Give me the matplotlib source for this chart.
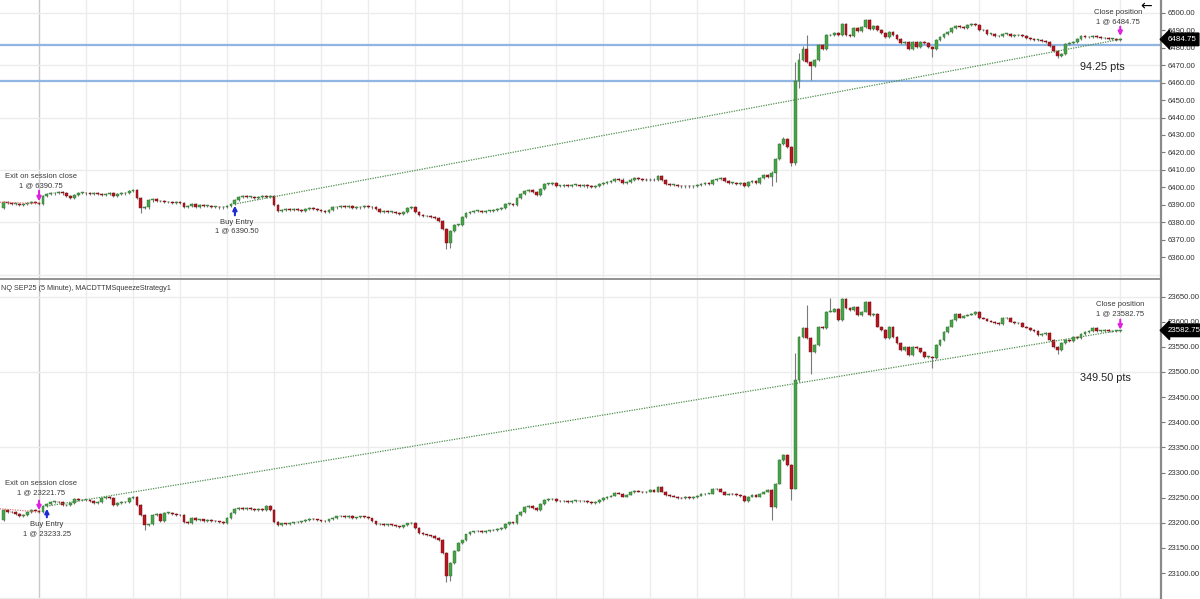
import numpy as np
import matplotlib
matplotlib.use("Agg")
import matplotlib.pyplot as plt

plt.rcParams['font.family'] = ['Liberation Sans', 'DejaVu Sans']

# ---- data (5 minute bars, open of a bar = close of the previous bar) ----
es_first_open = 6388.0
es_close = [
    6391.5, 6391, 6390.5, 6390.5, 6390, 6390.5, 6391, 6391.5, 6391.25, 6390.75,
    6395, 6396, 6396.5, 6397, 6397.5, 6396.5, 6395, 6394, 6395.5, 6397,
    6397, 6396.5, 6396, 6396.5, 6396, 6395.5, 6396, 6396.5, 6395, 6396,
    6396.5, 6397, 6397.75, 6398.75, 6394, 6388, 6388.5, 6392.5, 6393.5, 6392,
    6392, 6391.5, 6391.5, 6391, 6391.5, 6391, 6389, 6389.5, 6390.5, 6389,
    6390, 6389.5, 6389.5, 6389, 6389, 6388.5, 6389, 6389.5, 6390.5, 6393,
    6394.5, 6395, 6394.5, 6394.5, 6394, 6394.5, 6395, 6394.5, 6395, 6390,
    6386.5, 6387, 6387.5, 6387, 6387.5, 6387, 6386.5, 6387.5, 6388, 6387.5,
    6387, 6386.5, 6386, 6387, 6388.5, 6389, 6389.5, 6389, 6389.5, 6388,
    6388.5, 6389, 6389.5, 6389, 6388.5, 6387.5, 6386, 6386.5, 6386, 6386,
    6385.5, 6385, 6386, 6388, 6388.5, 6386, 6384, 6383.5, 6383.5, 6383,
    6382.5, 6381, 6376, 6368, 6375, 6378.5, 6378.5, 6383, 6385.5, 6386,
    6386.5, 6386.5, 6386, 6386.5, 6386.5, 6387, 6387.5, 6388, 6390.5, 6390.5,
    6390, 6394, 6396, 6398, 6398.5, 6397.5, 6395.5, 6399, 6402, 6402,
    6402.5, 6401, 6401, 6401.5, 6401, 6401.5, 6401.5, 6401, 6401.5, 6400.5,
    6400, 6401, 6402, 6402.5, 6403, 6403.5, 6405, 6404.5, 6402.5, 6403,
    6404.5, 6405.5, 6405, 6404.5, 6404, 6404.5, 6404, 6406.5, 6404, 6402,
    6401.5, 6401.5, 6401, 6400.5, 6401, 6400.5, 6401, 6401.5, 6402, 6402.5,
    6402, 6404, 6405, 6405.5, 6403.5, 6402.5, 6402.5, 6402, 6402.5, 6400.75,
    6403, 6403.5, 6402.75, 6405.5, 6407, 6406, 6408.5, 6416.5, 6425, 6427.5,
    6423, 6414, 6461, 6473, 6479, 6472, 6469.5, 6473, 6481.5, 6479.5,
    6487, 6487, 6488.5, 6487.5, 6493.5, 6487, 6486.5, 6491.5, 6489.5, 6492,
    6496, 6490.5, 6492.5, 6490, 6488.5, 6486, 6489, 6487, 6485, 6482.5,
    6483, 6479.5, 6483, 6480.5, 6483, 6482.5, 6480.5, 6479.5, 6484.5, 6486,
    6488, 6489, 6491.5, 6492.5, 6492, 6491.5, 6493, 6493.5, 6493, 6490,
    6490, 6488, 6488, 6486.5, 6486.5, 6488, 6488, 6486.5, 6487, 6487.5,
    6486.5, 6485.5, 6485, 6484.5, 6484.5, 6484, 6483.5, 6481, 6478, 6475.5,
    6476.5, 6482, 6482.5, 6483, 6485, 6486.5, 6486, 6486, 6486.5, 6486,
    6485.5, 6485.5, 6485, 6485, 6484.5, 6484.75,
]
# bars with long wicks: bar -> (low, high), None = no long wick on that side
es_wicks = {35: (6385.5, None), 113: (6364.5, None), 114: (6365, None),
            196: (6401, None), 197: (6403, None), 199: (None, 6429),
            200: (None, 6428.5), 201: (6412, None), 202: (6413, 6472),
            203: (6457, 6477), 204: (None, 6481), 205: (None, 6487.5),
            206: (6461.5, None), 237: (6474.5, None), 269: (6474, None)}

nq_first_open = 23205.0
nq_close = [
    23225, 23222, 23221, 23217, 23214, 23216, 23221, 23226, 23224, 23221.75,
    23234, 23238, 23242, 23242, 23241, 23235, 23236, 23240, 23248, 23245,
    23246, 23246, 23244, 23240, 23242, 23249, 23252, 23250, 23236, 23240,
    23241, 23241, 23249, 23252, 23236, 23215, 23196, 23197, 23215, 23218,
    23203, 23220, 23220, 23218, 23216, 23215, 23202, 23200, 23210, 23206,
    23207, 23204, 23206, 23204, 23203, 23202, 23200, 23210, 23219, 23227,
    23229, 23228, 23229, 23227, 23225, 23228, 23226, 23233, 23225, 23202,
    23196, 23199, 23198, 23200, 23201, 23202, 23203, 23206, 23208, 23207,
    23205, 23204, 23203, 23207, 23210, 23213, 23214, 23212, 23214, 23210,
    23211, 23213, 23212, 23209, 23203, 23197, 23198, 23196, 23197, 23195,
    23193, 23191, 23195, 23199, 23200, 23190, 23180, 23177, 23175, 23174,
    23170, 23166, 23140, 23095, 23120, 23145, 23160, 23165, 23177, 23182,
    23183, 23184, 23182, 23184, 23185, 23186, 23188, 23190, 23198, 23201,
    23200, 23215, 23222, 23232, 23234, 23230, 23225, 23238, 23246, 23247,
    23248, 23244, 23243, 23244, 23242, 23244, 23244, 23243, 23244, 23241,
    23239, 23242, 23246, 23249, 23252, 23254, 23260, 23258, 23252, 23256,
    23261, 23264, 23262, 23261, 23262, 23265, 23262, 23272, 23262, 23255,
    23253, 23252, 23250, 23249, 23252, 23250, 23251, 23254, 23257, 23258,
    23258, 23267, 23268, 23262, 23256, 23258, 23257, 23255, 23253, 23243,
    23252, 23256, 23252, 23258, 23262, 23266, 23232, 23278, 23325, 23335,
    23315, 23268, 23484, 23570, 23587, 23567, 23540, 23554, 23590, 23587,
    23620, 23620, 23625, 23603, 23646, 23627, 23623, 23629, 23613, 23620,
    23640, 23613, 23616, 23590, 23583, 23567, 23590, 23570, 23557, 23544,
    23550, 23534, 23550, 23547, 23540, 23530, 23530, 23527, 23554, 23564,
    23580, 23590, 23603, 23615, 23608, 23612, 23614, 23615, 23620, 23607,
    23606, 23602, 23600, 23597, 23595, 23607, 23607, 23600, 23597, 23598,
    23590, 23588, 23583, 23581, 23573, 23576, 23577, 23563, 23550, 23544,
    23557, 23563, 23562, 23570, 23568, 23575, 23580, 23582, 23587, 23582,
    23582, 23584, 23581, 23582, 23582, 23582.75,
]
nq_wicks = {36: (23186, None), 113: (23083, None), 114: (23085, None),
            196: (23206, None), 201: (23245, None), 202: (None, 23537),
            203: (23480, None), 205: (None, 23633), 206: (23495, None),
            211: (None, 23647), 237: (23508, None), 269: (23535, None)}

# trades: (bar, price)
es_exit = (9, 6390.75)
es_entry = (59, 6390.50)
es_closepos = (285, 6484.75)
es_prev_entry_price = 6391.5
es_levels = [6481.8, 6461.2]

nq_exit = (9, 23221.75)
nq_entry = (11, 23233.25)
nq_closepos = (285, 23582.75)
nq_prev_entry_price = 23228.0

GREEN = '#47a447'
RED = '#b7161f'
GRID = '#ececec'
TXT = '#3a3a3a'
SMALL = 5.5

W, H = 1200, 599
fig = plt.figure(figsize=(W / 100, H / 100), dpi=100)
fig.patch.set_facecolor('white')

x_right = 1161 / W
ax1 = fig.add_axes([0, (H - 278) / H, x_right, 278 / H])
ax2 = fig.add_axes([0, 0, x_right, 320 / H])


def candles(ax, first_open, closes, wicks, wick_def):
    c = np.array(closes, dtype=float)
    o = np.concatenate([[first_open], c[:-1]])
    idx = np.arange(len(c))
    top = np.maximum(o, c)
    bot = np.minimum(o, c)
    hi = top + wick_def
    lo = bot - wick_def
    for k, (l, h) in wicks.items():
        if l is not None:
            lo[k] = l
        if h is not None:
            hi[k] = h
    ax.vlines(idx, lo, hi, color='#7a7a7a', lw=0.8, zorder=3)
    up = c >= o
    body = np.maximum(top - bot, wick_def * 0.5)
    ax.bar(idx[up], body[up], bottom=bot[up], width=0.72, color=GREEN,
           edgecolor='#2f6f2f', linewidth=0.3, zorder=4)
    ax.bar(idx[~up], body[~up], bottom=bot[~up], width=0.72, color=RED,
           edgecolor='#6e0c12', linewidth=0.3, zorder=4)


def style(ax, ylim, yt, grid_y):
    ax.set_xlim(-0.96, 295.4)
    ax.set_ylim(*ylim)
    for s in ['top', 'left', 'bottom']:
        ax.spines[s].set_visible(False)
    ax.spines['right'].set_color('#8a8a8a')
    ax.spines['right'].set_linewidth(1.6)
    for gx in range(9, 300, 12):
        ax.axvline(gx, color='#c9c9c9' if gx == 9 else GRID, lw=1.0, zorder=0)
    for gy in grid_y:
        ax.axhline(gy, color=GRID, lw=1.0, zorder=0)
    ax.set_xticks([])
    ax.yaxis.tick_right()
    ax.set_yticks(yt)
    ax.set_yticklabels(['%.2f' % v for v in yt])
    ax.tick_params(axis='y', length=3, width=0.8, color='#777777', pad=1.5,
                   labelsize=5.6, labelcolor='#333333')


def arrow(ax, x, y_from, y_to, color):
    ax.annotate('', xy=(x, y_to), xytext=(x, y_from),
                arrowprops=dict(arrowstyle='-|>', color=color, lw=1.5,
                                mutation_scale=6, shrinkA=0, shrinkB=0),
                zorder=6)


def price_box(ax, price, txt):
    ax.annotate(txt, xy=(1.0, price), xycoords=('axes fraction', 'data'),
                xytext=(4.5, 0), textcoords='offset points', ha='left', va='center',
                fontsize=5.7, color='white', annotation_clip=False, zorder=10,
                bbox=dict(boxstyle='larrow,pad=0.35', fc='black', ec='black'))


# ---- top panel (ES) ----
candles(ax1, es_first_open, es_close, es_wicks, 0.6)
style(ax1, (6348.1, 6507.3), np.arange(6360, 6501, 10), np.arange(6350, 6501, 30))
for lv in es_levels:
    ax1.axhline(lv, color='#8fb5e3', lw=1.6, zorder=2)
ax1.plot([es_entry[0], es_closepos[0]], [es_entry[1], es_closepos[1]],
         color='#4f8f4f', lw=0.9, ls=(0, (1, 1)), zorder=5)
ax1.plot([-1, es_exit[0]], [es_prev_entry_price, es_exit[1]],
         color='#e07070', lw=0.9, ls=(0, (1, 1)), zorder=5)
arrow(ax1, es_exit[0], 6398, 6392, '#e020e0')
arrow(ax1, es_entry[0], 6384, 6389.5, '#1a2bd6')
arrow(ax1, es_closepos[0], 6492, 6486.7, '#e020e0')
ax1.text(9.5, 6403.5, 'Exit on session close\n1 @ %.2f' % es_exit[1], ha='center',
         va='center', fontsize=SMALL, color=TXT, linespacing=1.4)
ax1.text(59.5, 6377.5, 'Buy Entry\n1 @ %.2f' % es_entry[1], ha='center',
         va='center', fontsize=SMALL, color=TXT, linespacing=1.4)
ax1.text(284.5, 6497.6, 'Close position\n1 @ %.2f' % es_closepos[1], ha='center',
         va='center', fontsize=SMALL, color=TXT, linespacing=1.4)
ax1.text(280.4, 6468.9, '%.2f pts' % (es_closepos[1] - es_entry[1]), ha='center',
         va='center', fontsize=7.8, color='#222222')
price_box(ax1, es_closepos[1], '%.2f' % es_closepos[1])
ax1.text(1146 / 1161, 1 - 6 / 278, '\u2190', transform=ax1.transAxes, ha='center',
         va='center', fontsize=10, color='black', family='DejaVu Sans')

# ---- bottom panel (NQ) ----
candles(ax2, nq_first_open, nq_close, nq_wicks, 1.6)
style(ax2, (23048.6, 23684.8), np.arange(23100, 23651, 50), np.arange(23050, 23651, 150))
ax2.spines['top'].set_visible(True)
ax2.spines['top'].set_color('#8a8a8a')
ax2.spines['top'].set_linewidth(1.3)
ax2.plot([nq_entry[0], nq_closepos[0]], [nq_entry[1], nq_closepos[1]],
         color='#4f8f4f', lw=0.9, ls=(0, (1, 1)), zorder=5)
ax2.plot([-1, nq_exit[0]], [nq_prev_entry_price, nq_exit[1]],
         color='#e07070', lw=0.9, ls=(0, (1, 1)), zorder=5)
arrow(ax2, nq_exit[0], 23244, 23225, '#e020e0')
arrow(ax2, nq_entry[0], 23211, 23228, '#1a2bd6')
arrow(ax2, nq_closepos[0], 23604, 23584, '#e020e0')
ax2.text(9.5, 23268.3, 'Exit on session close\n1 @ %.2f' % nq_exit[1], ha='center',
         va='center', fontsize=SMALL, color=TXT, linespacing=1.4)
ax2.text(11, 23186.8, 'Buy Entry\n1 @ %.2f' % nq_entry[1], ha='center',
         va='center', fontsize=SMALL, color=TXT, linespacing=1.4)
ax2.text(285, 23624.2, 'Close position\n1 @ %.2f' % nq_closepos[1], ha='center',
         va='center', fontsize=SMALL, color=TXT, linespacing=1.4)
ax2.text(281.2, 23488, '%.2f pts' % (nq_closepos[1] - nq_entry[1]), ha='center',
         va='center', fontsize=7.8, color='#222222')
ax2.text(0.001, 1 - 9 / 320, 'NQ SEP25 (5 Minute), MACDTTMSqueezeStrategy1',
         transform=ax2.transAxes, ha='left', va='center', fontsize=5.2, color=TXT)
price_box(ax2, nq_closepos[1], '%.2f' % nq_closepos[1])

fig.savefig('out.png', dpi=100, facecolor='white')
